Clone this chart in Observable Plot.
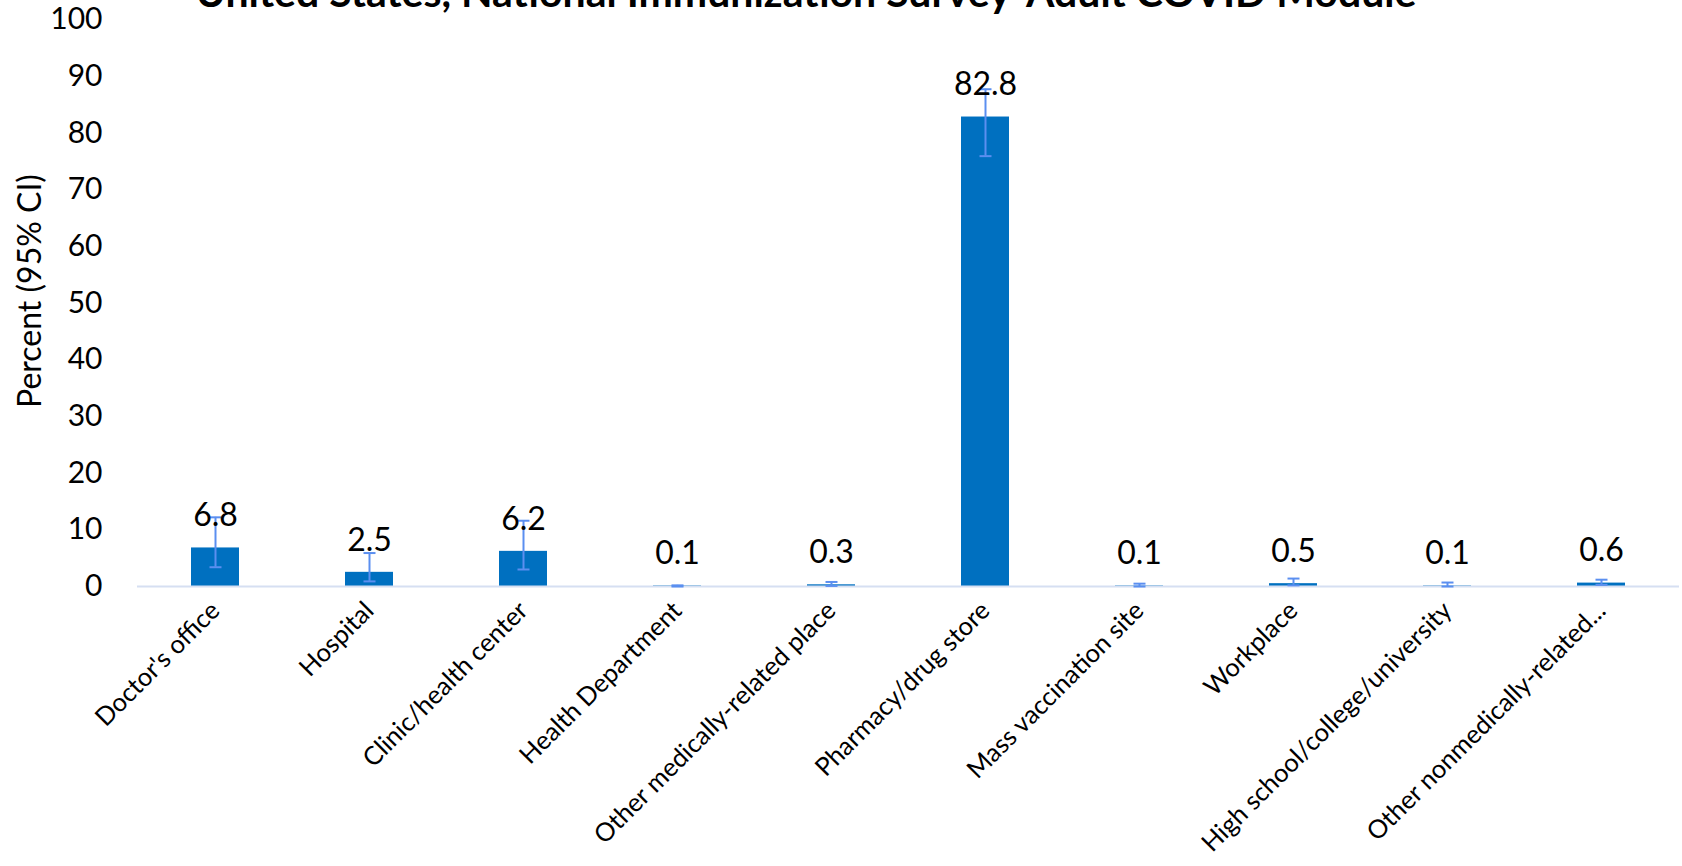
<!DOCTYPE html>
<html>
<head>
<meta charset="utf-8">
<script src="https://cdn.jsdelivr.net/npm/d3@7"></script>
<script src="https://cdn.jsdelivr.net/npm/@observablehq/plot@0.6"></script>
<style>
  html, body { margin: 0; padding: 0; background: white; overflow: hidden; }
</style>
</head>
<body>
<div id="chart"></div>
<script>
const title = "United States, National Immunization Survey-Adult COVID Module";
const yLabel = "Percent (95% CI)";
const categories = [
  "Doctor's office",
  "Hospital",
  "Clinic/health center",
  "Health Department",
  "Other medically-related place",
  "Pharmacy/drug store",
  "Mass vaccination site",
  "Workplace",
  "High school/college/university",
  "Other nonmedically-related..."
];
const values = [6.8, 2.5, 6.2, 0.1, 0.3, 82.8, 0.1, 0.5, 0.1, 0.6];
const ciLow  = [3.4, 0.9, 3.0, 0.0, 0.1, 75.9, 0.0, 0.2, 0.0, 0.3];
const ciHigh = [12.2, 5.9, 11.6, 0.2, 0.8, 87.7, 0.5, 1.4, 0.7, 1.2];
const yTicks = [0, 10, 20, 30, 40, 50, 60, 70, 80, 90, 100];

const data = categories.map((c, i) => ({cat: c, value: values[i], lo: ciLow[i], hi: ciHigh[i]}));

const font = "Lato, 'Open Sans', sans-serif";
const errColor = "#5B8FF0";

// horizontal cap symbol for error bars
const capSymbol = {
  draw(context) {
    context.moveTo(-6, 0);
    context.lineTo(6, 0);
  }
};

const svg = Plot.plot({
  width: 1682,
  height: 866,
  marginLeft: 137,
  marginRight: 3,
  marginTop: 19,
  marginBottom: 280,
  style: {fontFamily: font, background: "white", color: "black"},
  x: {domain: categories, paddingInner: 0.69, paddingOuter: 0.345, label: null},
  y: {domain: [0, 100], label: null},
  marks: [
    Plot.barY(data, {x: "cat", y: "value", fill: "#0070C0"}),
    Plot.ruleY([0], {stroke: "#D6DFF2", strokeWidth: 2}),
    Plot.ruleX(data, {x: "cat", y1: "lo", y2: "hi", stroke: errColor, strokeWidth: 2}),
    Plot.dot(data, {x: "cat", y: "lo", symbol: capSymbol, stroke: errColor, strokeWidth: 2, fill: "none"}),
    Plot.dot(data, {x: "cat", y: "hi", symbol: capSymbol, stroke: errColor, strokeWidth: 2, fill: "none"}),
    Plot.text(data, {x: "cat", y: "value", text: d => d.value.toFixed(1), dy: -32, fontSize: 32, fill: "black"}),
    Plot.axisY({ticks: yTicks, tickSize: 0, tickPadding: 35, fontSize: 30, label: null}),
    Plot.axisX({tickSize: 0, tickRotate: -45, tickPadding: 20, dx: 0, fontSize: 25.5, label: null}),
    Plot.text([yLabel], {frameAnchor: "left", textAnchor: "middle", rotate: -90, dx: -107, dy: -12, fontSize: 32, fill: "black"})
  ]
});

d3.select(svg).append("text")
  .attr("x", 806)
  .attr("y", 7)
  .attr("text-anchor", "middle")
  .attr("font-family", font)
  .attr("font-weight", "bold")
  .attr("font-size", 41)
  .attr("fill", "black")
  .text(title);

document.getElementById("chart").appendChild(svg);
</script>
</body>
</html>
